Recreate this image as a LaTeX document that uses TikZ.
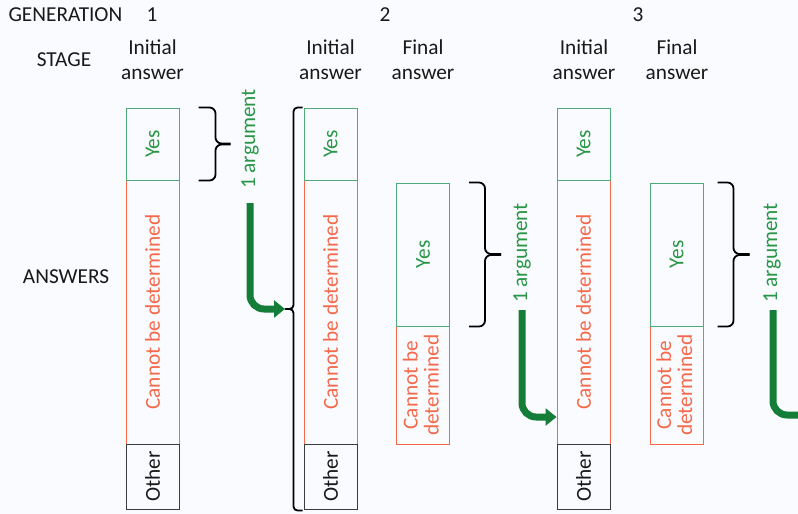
\documentclass[tikz,border=0pt]{standalone}
\usepackage{fontspec}
\setmainfont{Carlito}
\usepackage{graphicx}
\usetikzlibrary{arrows.meta}

\definecolor{paper}{RGB}{250,251,254}
\definecolor{inktext}{RGB}{25,25,25}
\definecolor{yesline}{RGB}{80,170,120}
\definecolor{yestext}{RGB}{40,150,70}
\definecolor{cbdred}{RGB}{245,105,75}
\definecolor{otherline}{RGB}{60,60,60}
\definecolor{argcol}{RGB}{20,125,55}

\tikzset{
	every node/.style={font=\fontsize{21.3}{25}\selectfont, text=inktext},
	ansbox/.style={draw, line width=1pt, inner sep=0pt, minimum width=53pt},
	yesbox/.style={ansbox, draw=yesline, text=yestext},
	cbdbox/.style={ansbox, draw=cbdred, text=cbdred},
	otherbox/.style={ansbox, draw=otherline},
	argbrace/.style={line width=1.8pt, rounded corners=6pt},
	argarrow/.style={draw=argcol, line width=7pt, rounded corners=14pt, -{Triangle[length=11pt,width=17pt]}},
	arglabel/.style={rotate=90, text=yestext},
}

\begin{document}
\begin{tikzpicture}[x=1pt,y=-1pt]
		\clip (0,0) rectangle (798,514);
		\fill[paper] (0,0) rectangle (798,514);

		% headings
		\node[anchor=west] (gen) at (5,15) {GENERATION};
		\node (gen1) at (152,15) {1};
		\node (gen2) at (385,15) {2};
		\node (gen3) at (638,15) {3};
		\node (stage) at (64,60) {STAGE};
		\node (answers) at (66,277) {ANSWERS};

		\node[align=center] (stage1) at (152.5,60) {Initial\\answer};
		\node[align=center] (stage2) at (330.5,60) {Initial\\answer};
		\node[align=center] (stage3) at (423,60) {Final\\answer};
		\node[align=center] (stage4) at (584,60) {Initial\\answer};
		\node[align=center] (stage5) at (677,60) {Final\\answer};

		% generation 1, initial answer
		\node[cbdbox, minimum height=264pt] (cbd1) at (152.5,312) {\rotatebox{90}{Cannot be determined}};
		\node[yesbox, minimum height=72pt] (yes1) at (152.5,144) {\rotatebox{90}{Yes}};
		\node[otherbox, minimum height=65pt] (oth1) at (152.5,476.5) {\rotatebox{90}{Other}};

		% generation 2, initial answer
		\node[cbdbox, minimum height=264pt] (cbd2) at (330.5,312) {\rotatebox{90}{Cannot be determined}};
		\node[yesbox, minimum height=72pt] (yes2) at (330.5,144) {\rotatebox{90}{Yes}};
		\node[otherbox, minimum height=65pt] (oth2) at (330.5,476.5) {\rotatebox{90}{Other}};

		% generation 2, final answer
		\node[cbdbox, minimum height=118pt] (cbd3) at (423,385) {\rotatebox{90}{\begin{tabular}{@{}c@{}}Cannot be\\[-4pt]determined\end{tabular}}};
		\node[yesbox, minimum height=143pt] (yes3) at (423,254.5) {\rotatebox{90}{Yes}};

		% generation 3, initial answer
		\node[cbdbox, minimum height=264pt] (cbd4) at (583.5,312) {\rotatebox{90}{Cannot be determined}};
		\node[yesbox, minimum height=72pt] (yes4) at (583.5,144) {\rotatebox{90}{Yes}};
		\node[otherbox, minimum height=65pt] (oth4) at (583.5,476.5) {\rotatebox{90}{Other}};

		% generation 3, final answer
		\node[cbdbox, minimum height=118pt] (cbd5) at (676.5,385) {\rotatebox{90}{\begin{tabular}{@{}c@{}}Cannot be\\[-4pt]determined\end{tabular}}};
		\node[yesbox, minimum height=143pt] (yes5) at (676.5,254.5) {\rotatebox{90}{Yes}};

		% braces round the yes answers
		\draw[argbrace] ([xshift=19pt]yes1.north east) -- ++(17,0) |- ++(15,36);
		\draw[argbrace] ([xshift=19pt]yes1.south east) -- ++(17,0) |- ++(15,-36);
		\draw[argbrace] ([xshift=19pt]yes3.north east) -- ++(16,0) |- ++(16,71.5);
		\draw[argbrace] ([xshift=19pt]yes3.south east) -- ++(16,0) |- ++(16,-71.5);
		\draw[argbrace] ([xshift=14pt]yes5.north east) -- ++(16,0) |- ++(16,71.5);
		\draw[argbrace] ([xshift=14pt]yes5.south east) -- ++(16,0) |- ++(16,-71.5);

		% bracket in front of generation 2
		\coordinate (brtip) at (285,309);
		\draw[argbrace, rounded corners=4pt] ([xshift=-1pt]yes2.north west) -- ++(-9,0) |- (brtip);
		\draw[argbrace, rounded corners=4pt] ([xshift=-1pt,yshift=-1pt]oth2.south west) -- ++(-9,0) |- (brtip);

		% one argument passed on
		\node[arglabel] (arg1) at (250,139) {1 argument};
		\node[arglabel] (arg2) at (522,253) {1 argument};
		\node[arglabel] (arg3) at (772,253) {1 argument};

		\coordinate (from1) at (250,203);
		\coordinate (from2) at (522,310);
		\coordinate (from3) at (773,310);
		\coordinate (offpage) at (815,415);

		\draw[argarrow] (from1) |- (brtip);
		\draw[argarrow] (from2) |- (cbd4.west |- 0,417);
		\draw[argarrow] (from3) |- (offpage);
	\end{tikzpicture}
\end{document}
